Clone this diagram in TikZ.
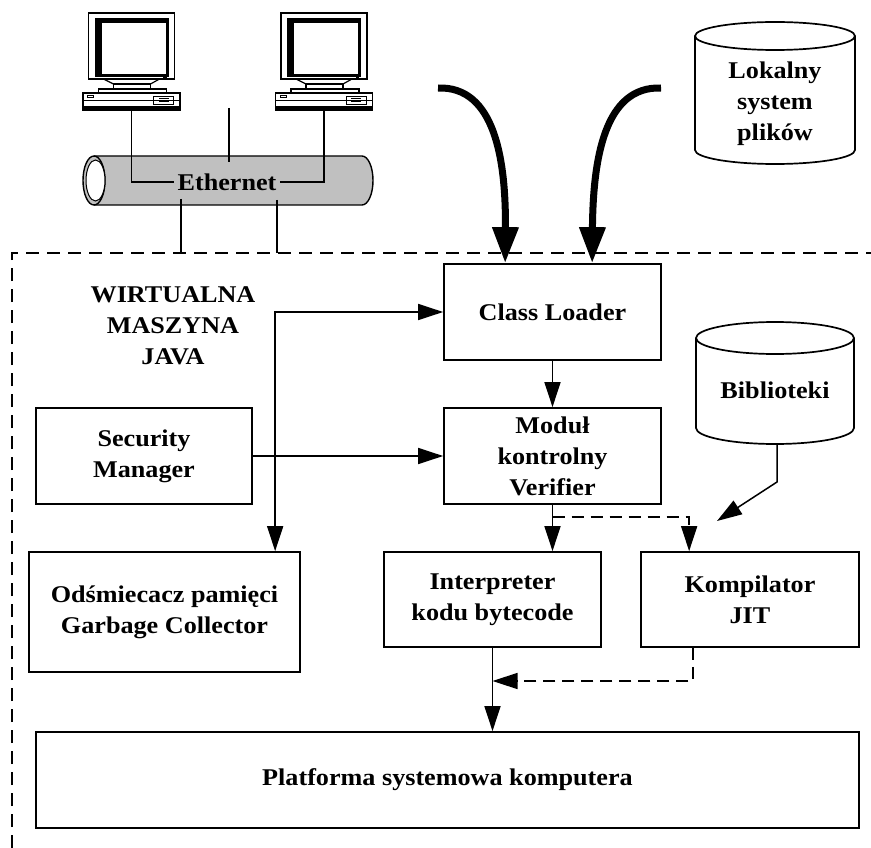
\documentclass[tikz,border=0pt]{standalone}
\usepackage{fontspec}
\setmainfont{Liberation Serif}[FakeStretch=1.09]
\usetikzlibrary{arrows.meta,calc}
\newcommand\labfont{\fontsize{24}{31}\selectfont\bfseries}
\definecolor{tubegray}{HTML}{C0C0C0}

\tikzset{
  box/.style={draw, line width=1.7pt, inner sep=0pt, align=center, font=\labfont},
  txt/.style={inner sep=0pt, align=center, font=\labfont},
  conn/.style={line width=1.5pt},
  arr/.style={conn, -{Triangle[length=25pt,width=16pt]}},
  dblarr/.style={conn, {Triangle[length=25pt,width=16pt]}-{Triangle[length=25pt,width=16pt]}},
  dasharr/.style={arr, dash pattern=on 12pt off 7pt},
  bigarr/.style={line width=7pt, -{Triangle[length=36pt,width=25pt]}},
  frame/.style={line width=1.5pt, dash pattern=on 13pt off 8pt},
  computer/.pic={
    % monitor
    \draw[line width=1.2pt] (-43,-97) rectangle (43,-31);
    \fill (-37,-92) rectangle (37,-33);
    \fill[white] (-30,-87) rectangle (34,-36);
    \fill (31.5,-35) rectangle (35,-32);
    % stand
    \draw[line width=1.2pt] (-28,-31) -- (-18,-26) (28,-31) -- (19,-26);
    \draw[line width=1.2pt] (-18,-26) rectangle (19,-21);
    \draw[line width=1.2pt] (-33,-21) rectangle (35,-17);
    % desktop case
    \draw[line width=1.2pt] (-48.5,-17) rectangle (48.5,0);
    \draw[line width=0.8pt] (-48.5,-10) -- (48.5,-10);
    \fill (-48.5,-3.5) rectangle (48.5,0);
    \draw[line width=0.8pt] (-44,-15) rectangle (-38,-13);
    \draw[line width=0.8pt] (22,-14) rectangle (42,-6);
    \fill (27,-12) rectangle (37,-10.5);
    \fill (27,-9.5) rectangle (37,-8);
    \coordinate (-base) at (0,0);
  }
}

\begin{document}
\begin{tikzpicture}[x=1pt,y=-1pt]
\useasboundingbox (0,0) rectangle (871,848);

% --- network: two workstations on an Ethernet segment
\pic (pcA) at (131.5,110) {computer};
\pic (pcB) at (324,110) {computer};

\fill[tubegray] (94,156) -- (362,156)
  arc[start angle=-90,end angle=90,x radius=11,y radius=24.5]
  -- (94,205) arc[start angle=90,end angle=270,x radius=11,y radius=24.5] -- cycle;
\draw[line width=1.4pt] (94,156) -- (362,156)
  arc[start angle=-90,end angle=90,x radius=11,y radius=24.5] -- (94,205);
\draw[line width=1.4pt] (94,180.5) ellipse[x radius=11,y radius=24.5];
\fill[white] (95.5,180.5) ellipse[x radius=9.5,y radius=20.5];
\draw[line width=1pt] (95.5,180.5) ellipse[x radius=9.5,y radius=20.5];

\node[txt, inner xsep=3pt] (eth) at (227,182) {Ethernet};
\draw[line width=1.2pt] (pcA-base) |- (eth.west);
\draw[line width=1.2pt] (pcB-base) |- (eth.east);

\coordinate (midtop) at (229,108);
\coordinate (midbot) at (229,162);
\draw[line width=1.2pt] (midtop) -- (midbot);

% --- local file system
\draw[line width=1.7pt, fill=white] (695,36) -- (695,150)
  arc[start angle=180,end angle=0,x radius=80,y radius=14] -- (855,36);
\draw[line width=1.7pt] (775,36) ellipse[x radius=80,y radius=14];
\node[txt] (lok) at (775,104) {Lokalny\\system\\plików};

% --- libraries
\draw[line width=1.7pt, fill=white] (696,338) -- (696,428)
  arc[start angle=180,end angle=0,x radius=79,y radius=16] -- (854,338);
\draw[line width=1.7pt] (775,338) ellipse[x radius=79,y radius=16];
\node[txt] (bib) at (775,390) {Biblioteki};
\coordinate (bibbot) at (777,444);

% --- virtual machine boundary
\coordinate (frA) at (12,848);
\coordinate (frB) at (12,253);
\coordinate (frC) at (871,253);
\draw[frame] (frA) -- (frB) -- (frC);
\draw[line width=1.2pt] (181,199) -- (181,253);
\draw[line width=1.2pt] (277,200) -- (277,253);

\node[txt] (jvm) at (173,326) {WIRTUALNA\\MASZYNA\\JAVA};

% --- components
\node[box, minimum width=217pt, minimum height=96pt] (cl) at (552.5,312) {Class Loader};
\node[box, minimum width=217pt, minimum height=96pt] (vf) at (552.5,456) {Moduł\\kontrolny\\Verifier};
\node[box, minimum width=216pt, minimum height=96pt] (sm) at (144,456) {Security\\Manager};
\node[box, minimum width=271pt, minimum height=120pt] (gc) at (164.5,612) {Odśmiecacz pamięci\\Garbage Collector};
\node[box, minimum width=217pt, minimum height=95pt] (ip) at (492.5,599.5) {Interpreter\\kodu bytecode};
\node[box, minimum width=218pt, minimum height=95pt] (jit) at (750,599.5) {Kompilator\\JIT};
\node[box, minimum width=823pt, minimum height=96pt] (pf) at (447.5,780) {Platforma systemowa komputera};

% --- class sources into the loader
\draw[bigarr] (438,88) .. controls (495,86) and (506,160) .. ([xshift=62pt]cl.north west);
\draw[bigarr] (661,88) .. controls (604,86) and (593,160) .. ([xshift=149pt]cl.north west);

% --- connectors
\draw[dblarr] ([xshift=247pt]gc.north west) |- (cl.west);
\draw[arr] (sm.east) -- (vf.west);
\draw[arr] (cl.south) -- (vf.north);
\draw[arr] (vf.south) -- (vf.south |- ip.north);
\draw[dasharr] ([yshift=-12pt]vf.south) -| ([xshift=49pt]jit.north west);
\coordinate (jitin) at (717,521);
\draw[arr] (bibbot) -- (777,482) -- (jitin);
\draw[arr] (ip.south) -- (ip.south |- pf.north);
\coordinate (merge) at (ip.south |- 0,681);
\draw[dasharr] ([xshift=53pt]jit.south west) |- (merge);
\end{tikzpicture}
\end{document}
